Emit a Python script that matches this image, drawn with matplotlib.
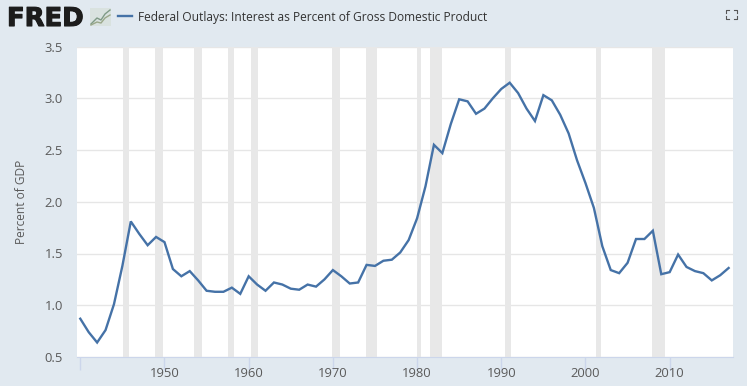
import numpy as np
import matplotlib
matplotlib.use('Agg')
import matplotlib.pyplot as plt
import matplotlib.patheffects as pe

plt.rcParams['font.family'] = ['Open Sans', 'DejaVu Sans']

title = 'Federal Outlays: Interest as Percent of Gross Domestic Product'
ylabel = 'Percent of GDP'
years = np.arange(1940, 2018)
values = [0.87, 0.74, 0.64, 0.76, 1.01, 1.38, 1.81, 1.69, 1.58, 1.66,
          1.61, 1.35, 1.28, 1.33, 1.24, 1.14, 1.13, 1.13, 1.17, 1.11,
          1.28, 1.20, 1.14, 1.22, 1.20, 1.16, 1.15, 1.20, 1.18, 1.25,
          1.34, 1.28, 1.21, 1.22, 1.39, 1.38, 1.43, 1.44, 1.51, 1.63,
          1.84, 2.15, 2.55, 2.47, 2.75, 2.99, 2.97, 2.85, 2.90, 3.00,
          3.09, 3.15, 3.05, 2.90, 2.78, 3.03, 2.98, 2.84, 2.66, 2.40,
          2.18, 1.94, 1.57, 1.34, 1.31, 1.41, 1.64, 1.64, 1.72, 1.30,
          1.32, 1.49, 1.37, 1.33, 1.31, 1.24, 1.29, 1.36]
recessions = [(1945.1, 1945.8), (1948.9, 1949.8), (1953.5, 1954.4),
              (1957.6, 1958.3), (1960.3, 1961.1), (1969.9, 1970.9),
              (1973.9, 1975.2), (1980.0, 1980.5), (1981.5, 1982.9),
              (1990.5, 1991.2), (2001.2, 2001.9), (2007.9, 2009.5)]
yticks = [0.5, 1.0, 1.5, 2.0, 2.5, 3.0, 3.5]
xticks = [1940, 1950, 1960, 1970, 1980, 1990, 2000, 2010]
xlabels = ['', '1950', '1960', '1970', '1980', '1990', '2000', '2010']

bg = '#e1e9f0'
blue = '#4572a7'
text_c = '#5a5a5a'

W, H = 747, 386
fig = plt.figure(figsize=(W / 100, H / 100), dpi=100, facecolor=bg)
ax = fig.add_axes([77 / W, 1 - 357 / H, (733 - 77) / W, (357 - 46.5) / H])
ax.set_facecolor('white')

for start, end in recessions:
    ax.axvspan(start, end, color='#e8e8e8', lw=0, zorder=1)
ax.plot(years, values, color=blue, lw=1.7, zorder=3, solid_joinstyle='miter')

ax.set_xlim(1939.61, 2017.52)
ax.set_ylim(0.5, 3.5)
ax.set_yticks(yticks)
ax.set_yticklabels(['%.1f' % t for t in yticks])
ax.set_xticks(xticks)
ax.set_xticklabels(xlabels)
ax.grid(axis='y', color='#e6e6e6', lw=1, zorder=0)
ax.set_axisbelow(True)
for s in ['top', 'right', 'left']:
    ax.spines[s].set_visible(False)
ax.spines['bottom'].set_color('#ccd6eb')
ax.tick_params(axis='y', length=0, pad=10, labelsize=9.4, labelcolor=text_c)
ax.tick_params(axis='x', length=9, width=1, color='#ccd6eb', pad=-2,
               labelsize=9.4, labelcolor=text_c)
ax.set_ylabel(ylabel, fontsize=8.6, color=text_c)
ax.yaxis.set_label_coords(-0.074, 0.5)

# header
fig.text(7 / W, 1 - 26 / H, 'FRED', fontsize=18.6, fontweight='bold',
         family='DejaVu Sans', color='#1c1c1c', va='baseline', ha='left',
         path_effects=[pe.withStroke(linewidth=0.8, foreground='#1c1c1c')])
fig.text(138 / W, 1 - 17 / H, title, fontsize=8.67, color='#333333',
         va='center', ha='left')
fig.add_artist(plt.Line2D([118 / W, 132 / W], [1 - 16 / H, 1 - 16 / H],
                          color=blue, lw=1.7))
# small chart icon next to the logo
fig.patches.append(plt.Rectangle((90 / W, 1 - 26 / H), 21 / W, 18 / H,
                                 transform=fig.transFigure, figure=fig,
                                 facecolor='#d9e2df', edgecolor='none'))
fig.add_artist(plt.Line2D(np.array([91, 97, 101, 105, 110]) / W,
                          1 - np.array([24, 18, 20, 14, 10]) / H,
                          color='#7f9a86', lw=1))
fig.add_artist(plt.Line2D(np.array([91, 97, 101, 105, 110]) / W,
                          1 - np.array([25, 22, 23, 18, 15]) / H,
                          color='#9aa88a', lw=1))
# fullscreen icon
for cx, cy, dx, dy in [(726, 10, 1, 1), (737, 10, -1, 1), (726, 19, 1, -1), (737, 19, -1, -1)]:
    fig.add_artist(plt.Line2D(np.array([cx + 3 * dx, cx, cx]) / W,
                              1 - np.array([cy, cy, cy + 3 * dy]) / H,
                              color='#555555', lw=0.8))

fig.savefig('out.png', dpi=100, facecolor=bg)
